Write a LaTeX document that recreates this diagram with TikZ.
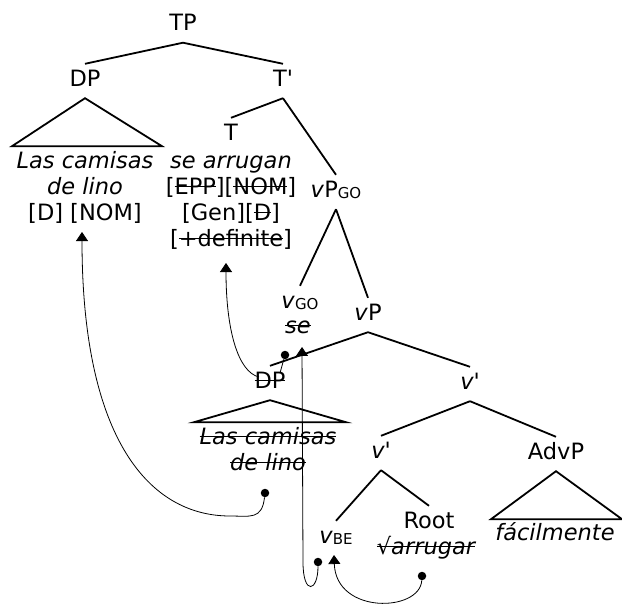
\documentclass[tikz,border=0pt]{standalone}
\usepackage{fontspec}
\setmainfont{DejaVu Sans}
\usetikzlibrary{arrows.meta}

\newcommand{\lsub}[1]{\raisebox{-1.5pt}{\fontsize{15}{16}\selectfont #1}}
\newcommand{\pr}{\textquotesingle}
\newcommand{\strike}[1]{\setbox0=\hbox{#1}\rlap{\rule[0.3em]{\wd0}{1.3pt}}\box0}

\begin{document}
\begin{tikzpicture}[x=1pt, y=-1pt, font=\fontsize{22.5}{26}\selectfont,
		cat/.style={anchor=base, inner xsep=2pt, inner ysep=6pt, text height=16pt, text depth=6pt},
		leaf/.style={anchor=base, align=center, inner sep=0pt},
		branch/.style={line width=1.8pt},
		move/.style={line width=0.8pt, -{Triangle[width=12pt,length=9pt]}},
		dot/.style={circle, fill, inner sep=0pt, minimum size=8.5pt}]
	\useasboundingbox (0,0) rectangle (622,605);
	% TP and its daughters (leaf stacks sit on their last line)
	\node (tp) [cat] at (183,30.5) {TP};
	\node (dp) [cat] at (85,86) {DP};
	\node (tbar) [cat] at (283,86) {T\pr};
	\node (dpw) [leaf] at (85,220) {\textit{Las camisas}\\ \textit{de lino}\\ {[}D] [NOM]};
	\node (t) [cat] at (231,140) {T};
	\node (tw) [leaf] at (231,246) {\textit{se arrugan}\\ {[}\strike{EPP}][\strike{NOM}]\\ {[}Gen][\strike{D}]\\ {[}\strike{+definite}]};
	\draw[branch] (tp.south) -- (dp.north);
	\draw[branch] (tp.south) -- (tbar.north);
	\draw[branch] (dp.south) -- ++(-73,48) -- ++(150,0) -- cycle;
	\draw[branch] (tbar.south) -- (t.north);
	% vP_GO
	\node (vpgo) [cat] at (336,197) {\textit{v}P\lsub{GO}};
	\node (vgo) [cat] at (300,308) {\textit{v}\lsub{GO}};
	\node (sew) [leaf] at (298,333) {\textit{\strike{se}}};
	\node (vp) [cat] at (368,320) {\textit{v}P};
	\draw[branch] (tbar.south) -- (vpgo.north);
	\draw[branch] (vpgo.south) -- (vgo.north);
	\draw[branch] (vpgo.south) -- (vp.north);
	% vP
	\node (sdp) [cat] at (270,388) {\strike{DP}};
	\node (sdpw) [leaf] at (268,470) {\textit{\strike{Las camisas}}\\ \textit{\strike{de lino}}};
	\node (vbar) [cat] at (470,389) {\textit{v\pr}};
	\draw[branch] (vp.south) -- (sdp.north);
	\draw[branch] (vp.south) -- (vbar.north);
	\draw[branch] (sdp.south) -- ++(-76,22) -- ++(152,0) -- cycle;
	% v' and AdvP
	\node (vbarb) [cat] at (381,458) {\textit{v\pr}};
	\node (advp) [cat] at (556,459) {AdvP};
	\node (advw) [leaf] at (555,540) {\textit{fácilmente}};
	\draw[branch] (vbar.south) -- (vbarb.north);
	\draw[branch] (vbar.south) -- (advp.north);
	\draw[branch] (advp.south) -- ++(-65,48) -- ++(131,0) -- cycle;
	\node (vbe) [cat] at (336,543) {\textit{v}\lsub{BE}};
	\node (root) [cat] at (429,528) {Root};
	\node (rootw) [leaf] at (426,554) {\textit{\strike{√arrugar}}};
	\draw[branch] (vbarb.south) -- (vbe.north);
	\draw[branch] (vbarb.south) -- (root.north);
	% movement arrows
	\node (nomdot) [dot] at (265,493) {};
	\node (sedot) [dot] at (318,562) {};
	\node (rootdot) [dot] at (422,576) {};
	\node (dpdot) [dot] at (285,355) {};
	\coordinate (nomtip) at (82,232);
	\coordinate (defsrc) at (259,377);
	\coordinate (deftip) at (226,263);
	\coordinate (setip) at (302,347);
	\coordinate (betip) at (334,555);
	\coordinate (dpstub) at (280,373);
	\draw[move] (nomdot) .. controls (262,520) and (250,516) .. (230,516) .. controls (150,516) and (82,440) .. (nomtip);
	\draw[move] (defsrc) .. controls (238,372) and (226,330) .. (deftip);
	\draw[move] (sedot) .. controls (318,592) and (303,596) .. (303,562) -- (setip);
	\draw[move] (rootdot) .. controls (420,612) and (336,615) .. (betip);
	\draw[line width=0.8pt] (dpdot) -- (dpstub);
\end{tikzpicture}
\end{document}
